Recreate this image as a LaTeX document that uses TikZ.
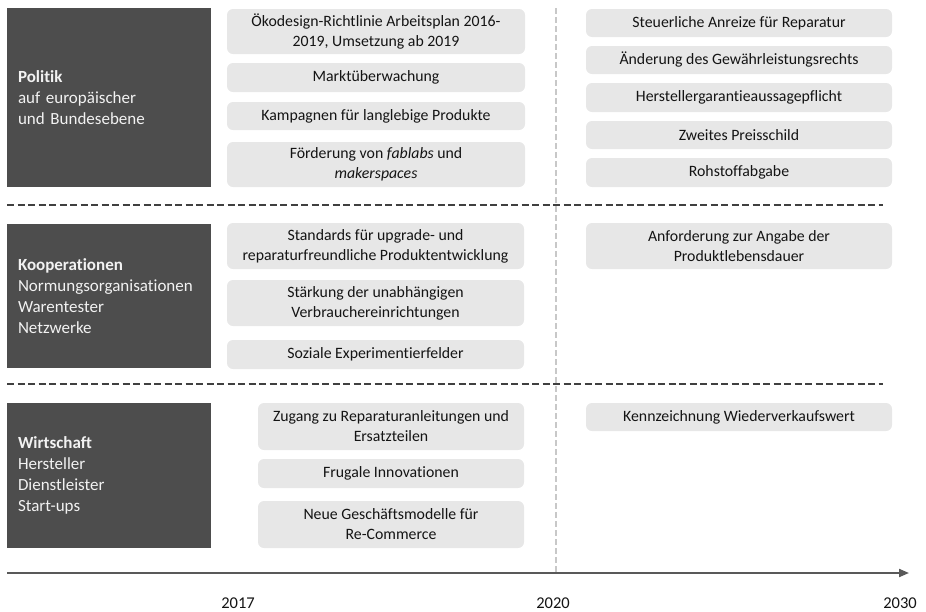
\documentclass[tikz,border=0pt]{standalone}
\usepackage{fontspec}
\setmainfont{Carlito}[Ligatures=NoCommon]
\usetikzlibrary{arrows.meta}
\definecolor{darkbox}{HTML}{4D4D4D}
\definecolor{lightbox}{HTML}{E7E7E7}
\definecolor{txt}{HTML}{141414}
\definecolor{sepline}{HTML}{404040}
\definecolor{vline}{HTML}{C8C8C8}
\definecolor{axisc}{HTML}{595959}
\tikzset{
  lbox/.style={rectangle, rounded corners=6pt, fill=lightbox, draw=none, inner sep=0pt,
    align=center, text=txt, font=\fontsize{15.8}{20}\selectfont},
  dbox/.style={rectangle, fill=darkbox, draw=none, inner xsep=11pt, inner ysep=0pt,
    text width=182pt, align=left, text=white!95!black, font=\fontsize{17}{21}\selectfont},
  sep/.style={draw=sepline, line width=2pt, dash pattern=on 7pt off 3.5pt},
  yearlbl/.style={text=txt, font=\fontsize{16.5}{18}\selectfont}
}
\begin{document}
\begin{tikzpicture}[x=1pt,y=-1pt]
\useasboundingbox (0,0) rectangle (926,611);
% vertical 2020 line
\coordinate (vtop) at (556,8);
\coordinate (vbot) at (556,573);
\draw[vline, line width=1.3pt, dash pattern=on 6pt off 3pt] (vtop) -- (vbot);
% separators
\coordinate (s1a) at (7,205); \coordinate (s1b) at (883,205);
\coordinate (s2a) at (7,384); \coordinate (s2b) at (883,384);
\draw[sep] (s1a) -- (s1b);
\draw[sep] (s2a) -- (s2b);
% axis
\coordinate (axa) at (7,573); \coordinate (axb) at (909,573);
\draw[axisc, line width=2pt, -{Triangle[length=10pt,width=8pt]}] (axa) -- (axb);
\node[yearlbl] (y2017) at (238,603) {2017};
\node[yearlbl] (y2020) at (553,603) {2020};
\node[yearlbl] (y2030) at (900,603) {2030};
% dark category boxes
\node[dbox, minimum height=179pt] (d1) at (109,97.5) {\textbf{Politik}\\auf europäischer\\und Bundesebene};
\node[dbox, minimum height=144pt] (d2) at (109,296) {\textbf{Kooperationen}\\Normungsorganisationen\\Warentester\\Netzwerke};
\node[dbox, minimum height=145pt] (d3) at (109,475.5) {\textbf{Wirtschaft}\\Hersteller\\Dienstleister\\Start-ups};
% Politik
\node[lbox, minimum width=298pt, minimum height=45pt] (p1) at (376,31.5) {Ökodesign-Richtlinie Arbeitsplan 2016-\\2019, Umsetzung ab 2019};
\node[lbox, minimum width=298pt, minimum height=29pt] (p2) at (376,77.5) {Marktüberwachung};
\node[lbox, minimum width=298pt, minimum height=28pt] (p3) at (376,116) {Kampagnen für langlebige Produkte};
\node[lbox, minimum width=298pt, minimum height=45pt] (p4) at (376,164.5) {Förderung von \textit{fablabs} und\\\textit{makerspaces}};
\node[lbox, minimum width=306pt, minimum height=28pt] (r1) at (739,23) {Steuerliche Anreize für Reparatur};
\node[lbox, minimum width=306pt, minimum height=28pt] (r2) at (739,60) {Änderung des Gewährleistungsrechts};
\node[lbox, minimum width=306pt, minimum height=29pt] (r3) at (739,97.5) {Herstellergarantieaussagepflicht};
\node[lbox, minimum width=306pt, minimum height=28pt] (r4) at (739,135) {Zweites Preisschild};
\node[lbox, minimum width=306pt, minimum height=29pt] (r5) at (739,172.5) {Rohstoffabgabe};
% Kooperationen
\node[lbox, minimum width=297pt, minimum height=46pt] (k1) at (375.5,246) {Standards für upgrade- und\\reparaturfreundliche Produktentwicklung};
\node[lbox, minimum width=297pt, minimum height=46pt] (k2) at (375.5,303) {Stärkung der unabhängigen\\Verbrauchereinrichtungen};
\node[lbox, minimum width=297pt, minimum height=29pt] (k3) at (375.5,354.5) {Soziale Experimentierfelder};
\node[lbox, minimum width=306pt, minimum height=46pt] (kr) at (739,246) {Anforderung zur Angabe der\\Produktlebensdauer};
% Wirtschaft
\node[lbox, minimum width=266pt, minimum height=47pt] (w1) at (391,426.5) {Zugang zu Reparaturanleitungen und\\Ersatzteilen};
\node[lbox, minimum width=266pt, minimum height=29pt] (w2) at (391,473.5) {Frugale Innovationen};
\node[lbox, minimum width=266pt, minimum height=47pt] (w3) at (391,524.5) {Neue Geschäftsmodelle für\\Re-Commerce};
\node[lbox, minimum width=306pt, minimum height=28pt] (wr) at (739,417) {Kennzeichnung Wiederverkaufswert};
\end{tikzpicture}
\end{document}
